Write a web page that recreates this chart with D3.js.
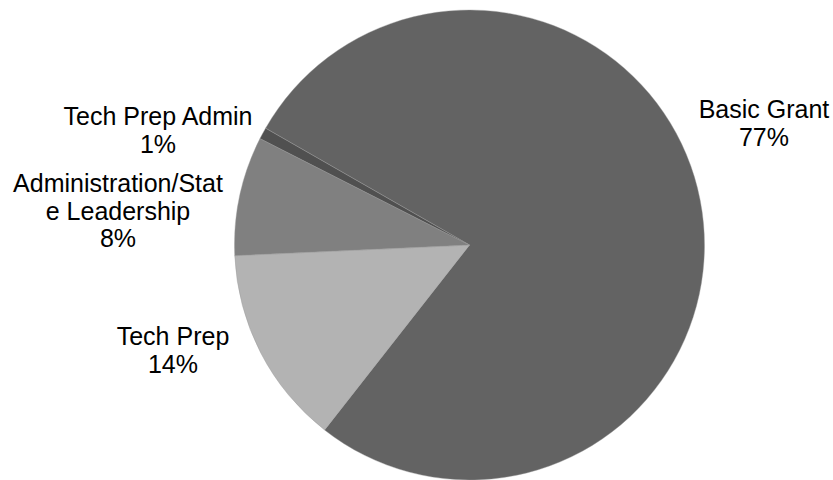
<!DOCTYPE html>
<html>
<head>
<meta charset="utf-8">
<script src="https://cdn.jsdelivr.net/npm/d3@7"></script>
<style>
  html, body { margin: 0; padding: 0; background: #fff; }
  svg { display: block; }
  text { font-family: "Liberation Sans", Arial, sans-serif; fill: #000; }
</style>
</head>
<body>
<svg id="chart" width="833" height="480"></svg>
<script>
// Funding categories and their share of the total (percent)
const categories = ["Basic Grant", "Tech Prep", "Administration/State Leadership", "Tech Prep Admin"];
const shares = [77.3, 13.7, 8.2, 0.8];
// Label text broken into lines as displayed
const labelLines = [["Basic Grant"], ["Tech Prep"], ["Administration/Stat", "e Leadership"], ["Tech Prep Admin"]];
const sliceColors = ["#636363", "#b3b3b3", "#808080", "#505050"];

// Layout
const W = 833, H = 480;
const cx = 469.5, cy = 245, radius = 235;
const firstSliceAngle = 299.8 * Math.PI / 180; // where the first slice begins, clockwise from 12 o'clock
const fontSize = 25, lineGap = 27.5;
// Anchor (horizontal centre, first baseline) of each label block
const labelAnchors = [[764, 118], [173, 345], [118, 192], [158, 125]];

const data = categories.map((c, i) => ({ name: c, value: shares[i], lines: labelLines[i], color: sliceColors[i], anchor: labelAnchors[i] }));

const svg = d3.select("#chart");
const g = svg.append("g").attr("transform", `translate(${cx},${cy})`);

const pie = d3.pie()
  .sort(null)
  .value(d => d.value)
  .startAngle(firstSliceAngle)
  .endAngle(firstSliceAngle + 2 * Math.PI);

const arc = d3.arc().innerRadius(0).outerRadius(radius);

g.selectAll("path.slice")
  .data(pie(data))
  .join("path")
  .attr("class", "slice")
  .attr("d", arc)
  .attr("fill", d => d.data.color)
  .attr("stroke", "#9a9a9a")
  .attr("stroke-width", 0.4);

// Category labels with the rounded share on the last line
const labels = svg.selectAll("text.label")
  .data(data)
  .join("text")
  .attr("class", "label")
  .attr("text-anchor", "middle")
  .attr("font-size", fontSize);

labels.each(function (d) {
  const t = d3.select(this);
  const lines = d.lines.concat([Math.round(d.value) + "%"]);
  lines.forEach((line, i) => {
    t.append("tspan")
      .attr("x", d.anchor[0])
      .attr("y", d.anchor[1] + i * lineGap)
      .text(line);
  });
});
</script>
</body>
</html>
